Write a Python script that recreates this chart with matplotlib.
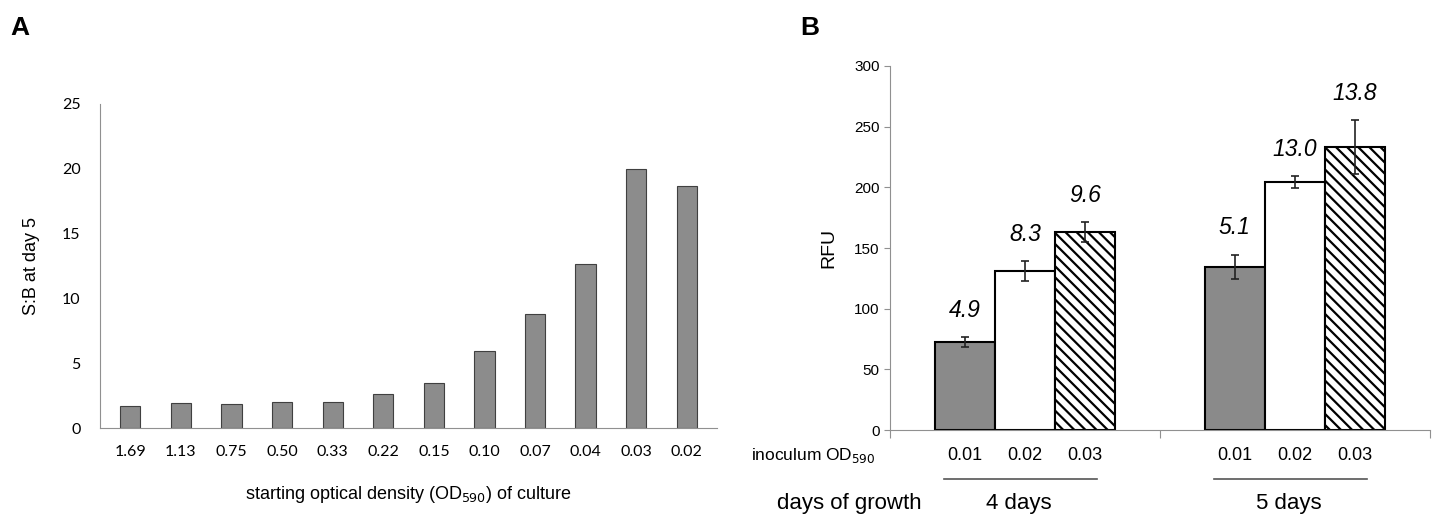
import matplotlib.pyplot as plt
import numpy as np

plt.rcParams['font.family'] = ['Liberation Sans', 'DejaVu Sans']
plt.rcParams['hatch.linewidth'] = 1.6

# Panel A data
od_start = ['1.69', '1.13', '0.75', '0.50', '0.33', '0.22', '0.15', '0.10', '0.07', '0.04', '0.03', '0.02']
sb_day5 = [1.68, 1.94, 1.83, 2.04, 1.99, 2.66, 3.46, 5.94, 8.78, 12.68, 20.0, 18.7]

# Panel B data
inoculum = ['0.01', '0.02', '0.03']
days = ['4 days', '5 days']
rfu_4d = [72.5, 131, 163]
err_4d = [4, 8, 8]
rfu_5d = [134.5, 204, 233]
err_5d = [10, 5, 22]
sb_4d = ['4.9', '8.3', '9.6']
sb_5d = ['5.1', '13.0', '13.8']

fig = plt.figure(figsize=(14.32, 5.14), dpi=100)

# ---------- Panel A ----------
axA = fig.add_axes([0.0698, 0.167, 0.431, 0.631])
xa = np.arange(len(od_start))
axA.bar(xa, sb_day5, width=0.4, color='#8c8c8c', edgecolor='#404040', linewidth=0.8)
axA.set_xlim(-0.6, len(od_start) - 0.4)
axA.set_ylim(0, 25)
axA.set_yticks([0, 5, 10, 15, 20, 25])
axA.set_xticks(xa)
axA.set_xticklabels(od_start, family=['Lato', 'DejaVu Sans'])
for lab in axA.get_yticklabels():
    lab.set_family(['Lato', 'DejaVu Sans'])
axA.tick_params(axis='both', length=0, labelsize=11.5, pad=12)
axA.tick_params(axis='y', pad=14)
for s in ['top', 'right']:
    axA.spines[s].set_visible(False)
axA.spines['left'].set_color('#909090')
axA.spines['bottom'].set_color('#909090')
axA.set_ylabel('S:B at day 5', fontsize=13, labelpad=16)
axA.set_xlabel('starting optical density (OD$_{590}$) of culture', fontsize=13, labelpad=18)

# ---------- Panel B ----------
axB = fig.add_axes([0.6215, 0.163, 0.377, 0.709])
colors = ['#8a8a8a', 'white', 'white']
hatches = [None, None, '\\\\\\']
x4 = np.array([1.25, 2.25, 3.25])
x5 = np.array([5.75, 6.75, 7.75])
for xs, vals, errs, labs in [(x4, rfu_4d, err_4d, sb_4d), (x5, rfu_5d, err_5d, sb_5d)]:
    for i in range(3):
        axB.bar(xs[i], vals[i], width=1.0, color=colors[i], edgecolor='black',
                linewidth=1.5, hatch=hatches[i])
        axB.errorbar(xs[i], vals[i], yerr=errs[i], fmt='none', ecolor='#222222',
                     elinewidth=1.2, capsize=3, capthick=1.2)
        axB.annotate(labs[i], (xs[i], vals[i] + errs[i]), xytext=(0, 11),
                     textcoords='offset points', ha='center', va='bottom',
                     fontsize=16.5, style='italic')
axB.set_xlim(0, 9)
axB.set_ylim(0, 300)
axB.set_yticks(np.arange(0, 301, 50))
axB.set_xticks([0, 4.5, 9])
axB.set_xticklabels([])
axB.tick_params(axis='y', labelsize=11, length=4, color='#909090')
axB.tick_params(axis='x', length=6, color='#909090', direction='out')
for s in ['top', 'right']:
    axB.spines[s].set_visible(False)
axB.spines['left'].set_color('#909090')
axB.spines['bottom'].set_color('#909090')
axB.set_ylabel('RFU', fontsize=14, labelpad=12)

# labels below the axis
tr = axB.get_xaxis_transform()
for xs in [x4, x5]:
    for i in range(3):
        axB.text(xs[i], -0.07, inoculum[i], transform=tr, ha='center', va='center', fontsize=13)
axB.text(-0.25, -0.07, 'inoculum OD$_{590}$', transform=tr, ha='right', va='center', fontsize=12.5)
for xs, d in zip([x4, x5], days):
    axB.plot([xs[0] - 0.35, xs[2] + 0.2], [-0.135, -0.135], transform=tr, color='#555555',
             linewidth=1.2, clip_on=False)
    axB.text(xs[1] - 0.1, -0.2, d, transform=tr, ha='center', va='center', fontsize=16)
axB.text(-0.68, -0.2, 'days of growth', transform=tr, ha='center', va='center', fontsize=16)

fig.text(0.007, 0.945, 'A', fontsize=19, fontweight='bold', va='center')
fig.text(0.559, 0.945, 'B', fontsize=19, fontweight='bold', va='center')

fig.savefig('out.png', dpi=100)
